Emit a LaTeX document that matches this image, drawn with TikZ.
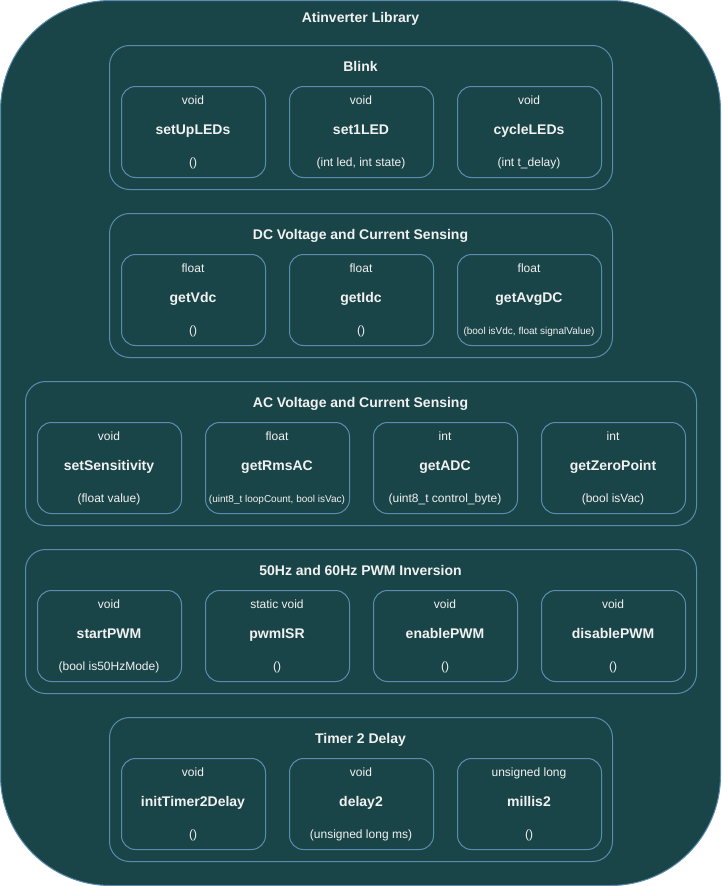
\documentclass[tikz,border=0pt]{standalone}
\usepackage{fontspec}
\setmainfont{Liberation Sans}
\usetikzlibrary{calc}
\definecolor{bgfill}{HTML}{1A4548}
\definecolor{edge}{HTML}{5A8CAF}
\definecolor{txt}{HTML}{F1F1F1}
\tikzset{
  outerbox/.style={draw=edge, fill=bgfill, line width=1pt, rounded corners=110pt},
  groupbox/.style={draw=edge, line width=1pt, rounded corners=20pt, anchor=north west, inner sep=0pt},
  fnbox/.style={draw=edge, line width=1pt, rounded corners=14pt, anchor=north west, minimum width=144pt, minimum height=91pt, inner sep=0pt},
  titletxt/.style={text=txt, font=\fontsize{14pt}{16pt}\selectfont\bfseries, inner sep=0pt, anchor=base},
  typetxt/.style={text=txt, font=\fontsize{12pt}{14pt}\selectfont, inner sep=0pt, anchor=base},
  nametxt/.style={text=txt, font=\fontsize{14pt}{16pt}\selectfont\bfseries, inner sep=0pt, anchor=base},
  partxt/.style={text=txt, font=\fontsize{12pt}{14pt}\selectfont, inner sep=0pt, anchor=base},
  smallpar/.style={text=txt, font=\fontsize{10pt}{12pt}\selectfont, inner sep=0pt, anchor=base},
}
% #1 name, #2 left x, #3 top y, #4 type, #5 function, #6 params, #7 param style
\newcommand\fnitem[7]{%
  \node[fnbox] (#1) at (#2,#3) {};
  \node[typetxt] (#1-type) at (#2+72,#3+18.8) {#4};
  \node[nametxt] (#1-name) at (#2+72,#3+48.5) {#5};
  \node[#7] (#1-par) at (#2+72,#3+80.3) {#6};
}
\begin{document}
\begin{tikzpicture}[x=1pt,y=-1pt]
\useasboundingbox (0,0) rectangle (721,886);
\draw[outerbox] (0.5,0.5) rectangle (720.5,885.5);
\node[titletxt] (lib) at (360.5,22.7) {Atinverter Library};

% Blink
\node[groupbox, minimum width=503pt, minimum height=144pt] (blink) at (109,45) {};
\node[titletxt] (blink-title) at (360.5,71.7) {Blink};
\fnitem{setup}{121}{86}{void}{setUpLEDs}{()}{partxt}
\fnitem{set1}{289}{86}{void}{set1LED}{(int led, int state)}{partxt}
\fnitem{cycle}{457}{86}{void}{cycleLEDs}{(int t\_delay)}{partxt}

% DC
\node[groupbox, minimum width=503pt, minimum height=144pt] (dc) at (109,213) {};
\node[titletxt] (dc-title) at (360.5,239.7) {DC Voltage and Current Sensing};
\fnitem{vdc}{121}{254}{float}{getVdc}{()}{partxt}
\fnitem{idc}{289}{254}{float}{getIdc}{()}{partxt}
\fnitem{avgdc}{457}{254}{float}{getAvgDC}{(bool isVdc, float signalValue)}{smallpar}

% AC
\node[groupbox, minimum width=671pt, minimum height=144pt] (ac) at (25,381) {};
\node[titletxt] (ac-title) at (360.5,407.7) {AC Voltage and Current Sensing};
\fnitem{sens}{37}{422}{void}{setSensitivity}{(float value)}{partxt}
\fnitem{rms}{205}{422}{float}{getRmsAC}{(uint8\_t loopCount, bool isVac)}{smallpar}
\fnitem{adc}{373}{422}{int}{getADC}{(uint8\_t control\_byte)}{partxt}
\fnitem{zero}{541}{422}{int}{getZeroPoint}{(bool isVac)}{partxt}

% PWM
\node[groupbox, minimum width=671pt, minimum height=144pt] (pwm) at (25,549) {};
\node[titletxt] (pwm-title) at (360.5,575.7) {50Hz and 60Hz PWM Inversion};
\fnitem{start}{37}{590}{void}{startPWM}{(bool is50HzMode)}{partxt}
\fnitem{isr}{205}{590}{static void}{pwmISR}{()}{partxt}
\fnitem{enable}{373}{590}{void}{enablePWM}{()}{partxt}
\fnitem{disable}{541}{590}{void}{disablePWM}{()}{partxt}

% Timer
\node[groupbox, minimum width=503pt, minimum height=144pt] (timer) at (109,717) {};
\node[titletxt] (timer-title) at (360.5,743.7) {Timer 2 Delay};
\fnitem{init}{121}{758}{void}{initTimer2Delay}{()}{partxt}
\fnitem{delay}{289}{758}{void}{delay2}{(unsigned long ms)}{partxt}
\fnitem{millis}{457}{758}{unsigned long}{millis2}{()}{partxt}
\end{tikzpicture}
\end{document}
